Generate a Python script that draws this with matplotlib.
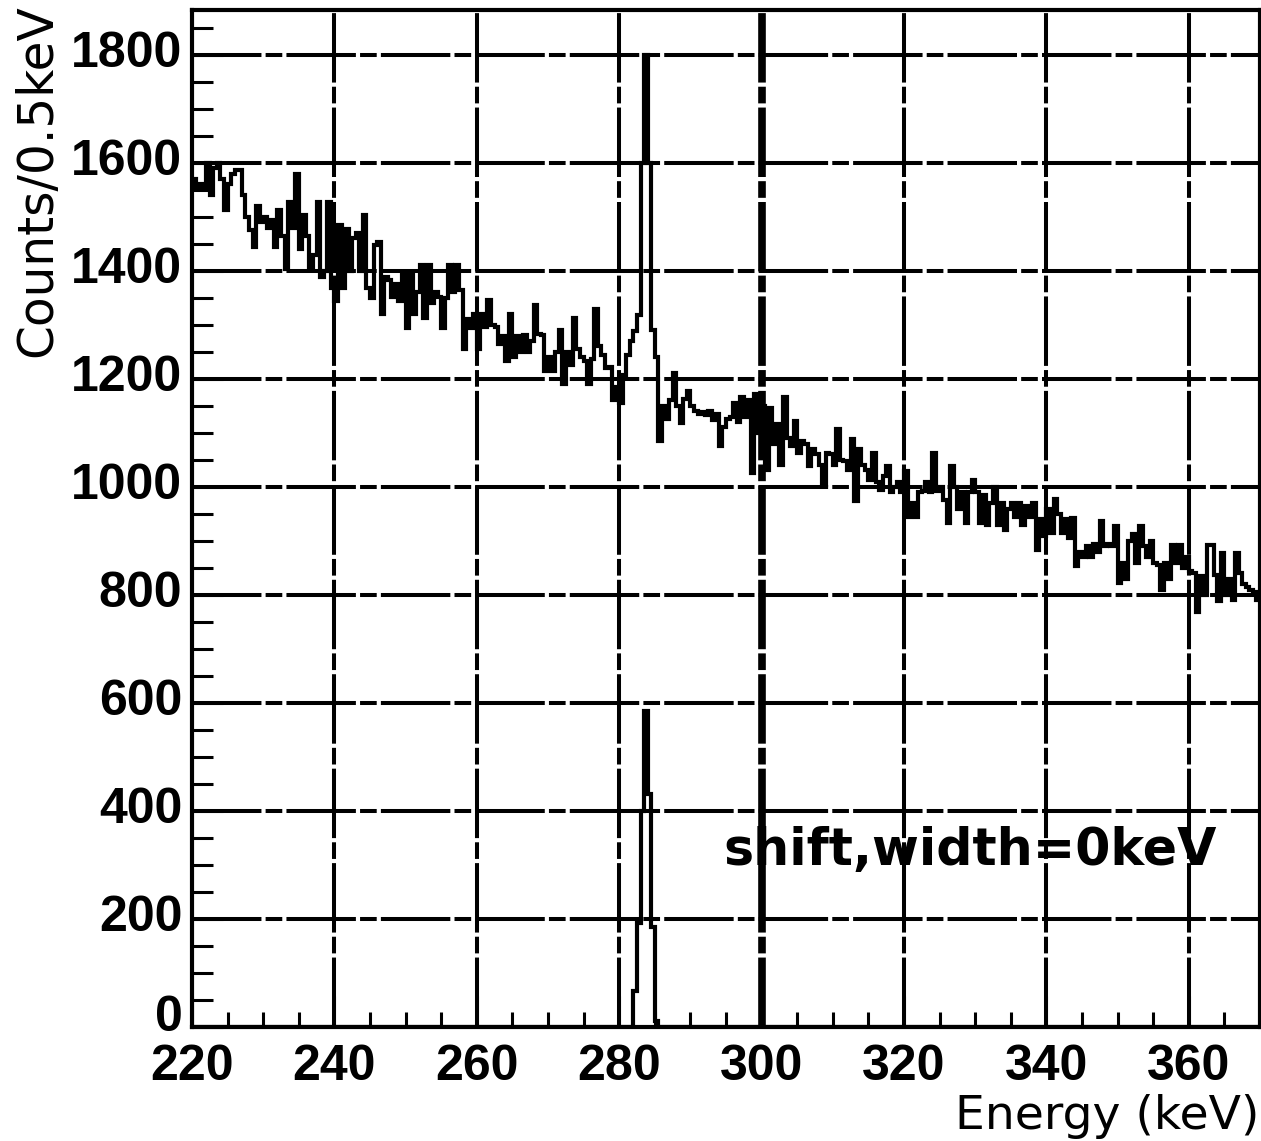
import numpy as np
import matplotlib
matplotlib.use("Agg")
import matplotlib.pyplot as plt
import matplotlib.transforms as mtransforms
from matplotlib.ticker import MultipleLocator

# ---- data (0.5 keV bins from 220 to 370 keV) ----
bin_start = 220.0
bin_width = 0.5
n_bins = 300

spectrum = [
    1570, 1555, 1560, 1555, 1600, 1540, 1590, 1600, 1570, 1512,
    1560, 1580, 1587, 1587, 1540, 1500, 1475, 1444, 1520, 1490,
    1500, 1480, 1495, 1445, 1512, 1465, 1404, 1527, 1480, 1580,
    1440, 1503, 1465, 1404, 1430, 1527, 1388, 1400, 1527, 1369,
    1345, 1484, 1369, 1478, 1400, 1460, 1470, 1400, 1503, 1369,
    1350, 1447, 1453, 1320, 1388, 1384, 1351, 1375, 1344, 1394,
    1295, 1394, 1320, 1360, 1410, 1313, 1410, 1340, 1360, 1351,
    1295, 1350, 1410, 1360, 1410, 1365, 1256, 1310, 1295, 1320,
    1256, 1320, 1296, 1346, 1300, 1296, 1265, 1280, 1234, 1321,
    1240, 1280, 1250, 1281, 1250, 1270, 1336, 1283, 1281, 1215,
    1240, 1215, 1249, 1290, 1190, 1250, 1225, 1312, 1256, 1240,
    1234, 1190, 1237, 1330, 1260, 1245, 1220, 1222, 1160, 1185,
    1155, 1207, 1245, 1270, 1288, 1319, 1600, 1800, 1600, 1290,
    1240, 1085, 1150, 1125, 1160, 1210, 1150, 1118, 1162, 1177,
    1150, 1140, 1135, 1138, 1133, 1140, 1124, 1135, 1076, 1110,
    1125, 1130, 1156, 1120, 1166, 1130, 1160, 1026, 1172, 1100,
    1150, 1032, 1147, 1080, 1116, 1040, 1166, 1091, 1075, 1122,
    1063, 1085, 1080, 1038, 1070, 1060, 1040, 1004, 1063, 1060,
    1040, 1107, 1050, 1048, 1032, 1088, 973, 1070, 1040, 1032,
    1013, 1063, 1010, 995, 1020, 1038, 990, 1000, 1010, 990,
    1029, 945, 970, 945, 990, 993, 1010, 990, 1063, 993,
    1000, 976, 933, 1038, 1000, 960, 990, 933, 990, 1013,
    990, 933, 985, 930, 970, 1000, 930, 971, 921, 960,
    971, 945, 971, 930, 965, 945, 970, 884, 940, 910,
    960, 915, 977, 950, 915, 940, 905, 943, 853, 880,
    870, 890, 870, 895, 880, 937, 890, 895, 890, 927,
    822, 860, 830, 900, 912, 860, 927, 890, 870, 900,
    860, 855, 810, 860, 830, 893, 860, 893, 850, 870,
    845, 840, 769, 835, 800, 893, 893, 837, 788, 878,
    800, 830, 790, 878, 840, 820, 815, 810, 805, 790,
]

# peak-only histogram: bins 124..130 non-zero
peak_bins = [124, 125, 126, 127, 128, 129, 130]
peak_counts = [66, 193, 400, 586, 432, 186, 12]

x_ticks = [220, 240, 260, 280, 300, 320, 340, 360]
y_ticks = [0, 200, 400, 600, 800, 1000, 1200, 1400, 1600, 1800]
x_label = "Energy (keV)"
y_label = "Counts/0.5keV"
annotation = "shift,width=0keV"

# ---- figure ----
plt.rcParams['lines.scale_dashes'] = False
plt.rcParams['font.family'] = ['Liberation Sans', 'DejaVu Sans']

W, H = 1261, 1141
fig = plt.figure(figsize=(W / 100, H / 100), dpi=100)
ax = fig.add_axes([192 / W, (H - 1027) / H, (1260 - 192) / W, (1027 - 10) / H])

edges = bin_start + bin_width * np.arange(n_bins + 1)
lower = np.zeros(n_bins)
for b, c in zip(peak_bins, peak_counts):
    lower[b] = c

ax.set_xlim(220, 370)
ax.set_ylim(0, 1883)

dash = (0, (50, 3, 12, 3))
for xv in x_ticks[1:]:
    ax.axvline(xv, color='black', lw=5.5 if xv == 300 else 2.9,
               linestyle=dash, zorder=1)
for yv in y_ticks[1:]:
    ax.axhline(yv, color='black', lw=2.9, linestyle=dash, zorder=1)

ax.stairs(spectrum, edges, baseline=None, color='black', lw=3.0, zorder=3)
ax.stairs(lower, edges, baseline=None, color='black', lw=3.0, zorder=3)

ax.set_xticks(x_ticks)
ax.set_yticks(y_ticks)
ax.xaxis.set_minor_locator(MultipleLocator(5))
ax.yaxis.set_minor_locator(MultipleLocator(50))
ax.tick_params(which='both', direction='in', top=False, right=False,
               width=2.2, colors='black', labelsize=36)
ax.tick_params(axis='y', which='major', length=22, pad=7)
ax.tick_params(axis='y', which='minor', length=15)
ax.tick_params(axis='x', which='major', length=22, pad=12)
ax.tick_params(axis='x', which='minor', length=11)
for lab in ax.get_xticklabels() + ax.get_yticklabels():
    lab.set_fontweight('bold')
ylabs = ax.get_yticklabels()
for i, lab in enumerate(ylabs):
    dy = 14 if i == 0 else 6
    off = mtransforms.ScaledTranslation(0, dy / 100, fig.dpi_scale_trans)
    lab.set_transform(lab.get_transform() + off)
for s in ax.spines.values():
    s.set_linewidth(3)

ax.text(294.7, 300, annotation, fontsize=36.5, fontweight='bold',
        family='DejaVu Sans', ha='left', va='baseline', zorder=4)

fig.text(37 / W, 1 - 4 / H, y_label, rotation=90, ha='center', va='top',
         fontsize=35, family='DejaVu Sans')
fig.text(1259 / W, 2 / H, x_label, ha='right', va='bottom', fontsize=34,
         family='DejaVu Sans')

fig.savefig("out.png", dpi=100)
